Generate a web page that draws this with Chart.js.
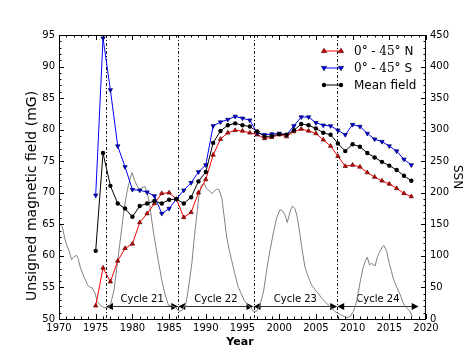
<!DOCTYPE html>
<html>
<head>
<meta charset="utf-8">
<script src="https://cdn.jsdelivr.net/npm/chart.js@4.4.0/dist/chart.umd.min.js"></script>
<style>
  html, body { margin: 0; padding: 0; background: #fff; }
  #wrap { width: 473px; height: 355px; }
</style>
</head>
<body>
<div id="wrap"><canvas id="chart" width="473" height="355"></canvas></div>
<script>
// yearly unsigned field, 1975 - 2018
const years = [1975, 1976, 1977, 1978, 1979, 1980, 1981, 1982, 1983, 1984,
               1985, 1986, 1987, 1988, 1989, 1990, 1991, 1992, 1993, 1994,
               1995, 1996, 1997, 1998, 1999, 2000, 2001, 2002, 2003, 2004,
               2005, 2006, 2007, 2008, 2009, 2010, 2011, 2012, 2013, 2014,
               2015, 2016, 2017, 2018];
const fieldN = [52.1, 58.1, 55.9, 59.2, 61.2, 61.9, 65.3, 66.7, 68.3, 69.9,
                70.0, 69.0, 66.1, 66.9, 70.0, 72.1, 76.0, 78.5, 79.5, 79.9,
                79.8, 79.5, 79.2, 78.6, 78.8, 79.2, 78.9, 79.7, 80.1, 79.8,
                79.4, 78.4, 77.4, 75.8, 74.2, 74.4, 74.1, 73.2, 72.5, 71.9,
                71.4, 70.7, 69.9, 69.4];
const fieldS = [69.6, 94.5, 86.3, 77.4, 74.1, 70.5, 70.4, 70.1, 69.5, 66.7,
                67.5, 69.0, 70.4, 71.6, 73.3, 74.4, 80.6, 81.2, 81.6, 82.1,
                81.8, 81.5, 79.5, 79.2, 79.3, 79.4, 79.2, 80.6, 82.0, 82.0,
                81.1, 80.7, 80.6, 79.9, 79.2, 80.8, 80.5, 79.4, 78.5, 78.1,
                77.4, 76.6, 75.3, 74.4];
const fieldMean = [60.8, 76.3, 71.1, 68.3, 67.5, 66.2, 67.9, 68.3, 68.7, 68.3,
                   68.9, 69.0, 68.3, 69.3, 71.8, 73.3, 77.9, 79.8, 80.7, 81.0,
                   80.7, 80.5, 79.7, 78.9, 79.0, 79.3, 79.2, 79.9, 80.9, 80.7,
                   80.2, 79.5, 79.2, 77.8, 76.6, 77.7, 77.3, 76.3, 75.6, 74.9,
                   74.3, 73.6, 72.7, 71.9];

// smoothed sunspot number (right axis)
const ssnYears = [1970.0, 1970.45, 1970.9, 1971.4, 1971.7, 1972.0, 1972.4, 1972.6, 1972.95, 1973.4,
                  1973.9, 1974.3, 1974.5, 1974.9, 1975.2, 1975.7, 1976.1, 1976.6, 1977.0, 1977.5,
                  1977.95, 1978.4, 1978.85, 1979.3, 1979.75, 1979.95, 1980.35, 1980.7, 1981.0, 1981.3,
                  1981.7, 1982.0, 1982.3, 1982.6, 1982.9, 1983.1, 1983.5, 1984.0, 1984.4, 1984.9,
                  1985.4, 1985.9, 1986.35, 1986.8, 1987.3, 1987.6, 1988.1, 1988.4, 1988.75, 1989.05,
                  1989.4, 1989.75, 1990.1, 1990.55, 1990.9, 1991.1, 1991.5, 1991.8, 1992.2, 1992.5,
                  1992.85, 1993.2, 1993.5, 1993.95, 1994.4, 1994.8, 1995.2, 1995.7, 1996.2, 1996.47,
                  1996.9, 1997.4, 1997.9, 1998.3, 1998.75, 1999.2, 1999.65, 2000.1, 2000.4, 2000.8,
                  2001.1, 2001.5, 2001.8, 2002.15, 2002.45, 2002.8, 2003.2, 2003.5, 2003.95, 2004.4,
                  2004.9, 2005.3, 2005.8, 2006.2, 2006.7, 2007.1, 2007.6, 2008.0, 2008.5, 2008.9,
                  2009.2, 2009.65, 2010.1, 2010.6, 2011.0, 2011.4, 2011.7, 2012.0, 2012.3, 2012.6,
                  2013.05, 2013.4, 2013.7, 2014.1, 2014.3, 2014.65, 2015.0, 2015.3, 2015.6, 2016.0,
                  2016.5, 2016.9, 2017.4, 2017.85, 2018.1];
const ssnValues = [152, 146, 122, 107, 94, 98, 101, 96, 80, 67,
                   54, 49, 50, 41, 28, 21, 18, 18, 22, 46,
                   88, 130, 173, 204, 225, 232, 218, 210, 205, 208,
                   210, 200, 185, 160, 135, 122, 94, 62, 41, 22,
                   21, 18, 12, 14, 25, 46, 88, 125, 162, 194,
                   212, 215, 207, 202, 199, 202, 206, 205, 191, 162,
                   130, 109, 94, 72, 51, 41, 30, 22, 17, 12,
                   12, 22, 46, 78, 109, 136, 160, 173, 172, 165,
                   153, 171, 179, 175, 162, 136, 104, 83, 67, 54,
                   46, 41, 33, 28, 22, 18, 12, 9, 6, 4,
                   2, 4, 12, 30, 57, 80, 91, 98, 86, 88,
                   84, 99, 107, 115, 116, 107, 88, 75, 62, 51,
                   38, 25, 17, 12, 4];

// cycle minima and labels
const cycleBounds = [1976.4, 1986.25, 1996.5, 2007.9, 2019.0];
const cycleNames = ['Cycle 21', 'Cycle 22', 'Cycle 23', 'Cycle 24'];
const arrowLevel = 20;
const labelLevel = 27;

const seriesLabels = ['0° - 45°', '0° - 45°', 'Mean field'];
const seriesSuffix = [' N', ' S', ''];

const FONT = "'DejaVu Sans', sans-serif";
Chart.defaults.font.family = FONT;
Chart.defaults.color = '#000';

function tri(ctx, x, y, r, down, fill, edge) {
  const s = down ? -1 : 1;
  ctx.beginPath();
  ctx.moveTo(x, y - s * r);
  ctx.lineTo(x + r * 0.95, y + s * r * 0.6);
  ctx.lineTo(x - r * 0.95, y + s * r * 0.6);
  ctx.closePath();
  ctx.fillStyle = fill; ctx.fill();
  ctx.strokeStyle = edge; ctx.lineWidth = 0.7; ctx.stroke();
}

function ticksOn(ctx, scale, a, from, to, step, len, side) {
  ctx.beginPath();
  for (let v = from; v <= to + 1e-9; v += step) {
    const p = Math.round(scale.getPixelForValue(v)) + 0.5;
    if (side === 'bottom') { ctx.moveTo(p, a.bottom); ctx.lineTo(p, a.bottom - len); }
    if (side === 'top') { ctx.moveTo(p, a.top); ctx.lineTo(p, a.top + len); }
    if (side === 'left') { ctx.moveTo(a.left, p); ctx.lineTo(a.left + len, p); }
    if (side === 'right') { ctx.moveTo(a.right, p); ctx.lineTo(a.right - len, p); }
  }
  ctx.stroke();
}

const decor = {
  id: 'decor',
  beforeDatasetsDraw(chart) {
    const {ctx, chartArea: a, scales: {x, y2}} = chart;
    ctx.save();
    // dash-dot lines at cycle minima
    ctx.strokeStyle = '#000';
    ctx.lineWidth = 1;
    ctx.setLineDash([3, 2, 1, 2]);
    cycleBounds.slice(0, 4).forEach(v => {
      const px = Math.round(x.getPixelForValue(v)) + 0.5;
      ctx.beginPath(); ctx.moveTo(px, a.top); ctx.lineTo(px, a.bottom); ctx.stroke();
    });
    ctx.setLineDash([]);
    // cycle arrows
    const ay = Math.round(y2.getPixelForValue(arrowLevel)) + 0.5;
    const ly = y2.getPixelForValue(labelLevel);
    ctx.font = '10px ' + FONT;
    ctx.textAlign = 'center';
    ctx.textBaseline = 'alphabetic';
    for (let i = 0; i < cycleNames.length; i++) {
      const x0 = x.getPixelForValue(cycleBounds[i]);
      const x1 = x.getPixelForValue(cycleBounds[i + 1]);
      ctx.strokeStyle = '#333'; ctx.lineWidth = 1;
      ctx.beginPath(); ctx.moveTo(x0 + 4, ay); ctx.lineTo(x1 - 4, ay); ctx.stroke();
      ctx.fillStyle = '#000';
      ctx.beginPath(); ctx.moveTo(x0, ay); ctx.lineTo(x0 + 7, ay - 3.5); ctx.lineTo(x0 + 7, ay + 3.5); ctx.closePath(); ctx.fill();
      ctx.beginPath(); ctx.moveTo(x1, ay); ctx.lineTo(x1 - 7, ay - 3.5); ctx.lineTo(x1 - 7, ay + 3.5); ctx.closePath(); ctx.fill();
      ctx.fillText(cycleNames[i], (x0 + x1) / 2, ly);
    }
    ctx.restore();
  },
  afterDraw(chart) {
    const {ctx, chartArea: a, scales: {x, y, y2}} = chart;
    ctx.save();
    ctx.strokeStyle = '#000';
    ctx.lineWidth = 1;
    ctx.strokeRect(a.left + 0.5, a.top + 0.5, a.right - a.left - 1, a.bottom - a.top);
    // inward ticks
    ticksOn(ctx, x, a, 1970, 2020, 5, 5, 'bottom');
    ticksOn(ctx, x, a, 1970, 2020, 1, 2.5, 'bottom');
    ticksOn(ctx, x, a, 1970, 2020, 5, 5, 'top');
    ticksOn(ctx, x, a, 1970, 2020, 1, 2.5, 'top');
    ticksOn(ctx, y, a, 50, 95, 5, 5, 'left');
    ticksOn(ctx, y, a, 50, 95, 1, 2.5, 'left');
    ticksOn(ctx, y2, a, 0, 450, 50, 5, 'right');
    ticksOn(ctx, y2, a, 0, 450, 10, 2.5, 'right');

    // legend
    const rows = [
      {color: '#ff0000', fill: '#cc0000', edge: '#550000', kind: 'up'},
      {color: '#0000ff', fill: '#0000ee', edge: '#000055', kind: 'down'},
      {color: '#000000', fill: '#000000', edge: '#000000', kind: 'dot'}
    ];
    rows.forEach((r, i) => {
      const ly = 51 + i * 17;
      ctx.strokeStyle = r.color; ctx.lineWidth = 1;
      ctx.beginPath(); ctx.moveTo(324, ly); ctx.lineTo(341, ly); ctx.stroke();
      [324, 341].forEach(px => {
        if (r.kind === 'dot') {
          ctx.beginPath(); ctx.arc(px, ly, 2.2, 0, Math.PI * 2); ctx.fillStyle = '#000'; ctx.fill();
        } else {
          tri(ctx, px, ly, 2.7, r.kind === 'down', r.fill, r.edge);
        }
      });
      ctx.fillStyle = '#000';
      ctx.textBaseline = 'middle';
      ctx.textAlign = 'left';
      if (seriesSuffix[i]) {
        ctx.font = "12px 'DejaVu Serif', serif";
        ctx.fillText(seriesLabels[i], 354, ly + 1);
        const w = ctx.measureText(seriesLabels[i]).width;
        ctx.font = '12px ' + FONT;
        ctx.fillText(seriesSuffix[i], 354 + w, ly + 1);
      } else {
        ctx.font = '12px ' + FONT;
        ctx.fillText(seriesLabels[i], 354, ly + 1);
      }
    });

    // axis titles
    ctx.fillStyle = '#000';
    ctx.textAlign = 'center';
    ctx.textBaseline = 'middle';
    ctx.font = 'bold 11px ' + FONT;
    ctx.fillText('Year', 240, 342);
    ctx.save();
    ctx.translate(32, 196);
    ctx.rotate(-Math.PI / 2);
    ctx.font = '14px ' + FONT;
    ctx.fillText('Unsigned magnetic field (mG)', 0, 0);
    ctx.restore();
    ctx.save();
    ctx.translate(457, 177);
    ctx.rotate(Math.PI / 2);
    ctx.font = '12px ' + FONT;
    ctx.fillText('SSN', 0, 0);
    ctx.restore();
    ctx.restore();
  }
};

const tickFont = {size: 10, family: FONT};

new Chart(document.getElementById('chart'), {
  type: 'line',
  data: {
    datasets: [
      {
        label: 'N',
        data: years.map((yr, i) => ({x: yr, y: fieldN[i]})),
        borderColor: '#ff0000',
        borderWidth: 1,
        pointStyle: 'triangle',
        pointRadius: 2.5,
        pointBackgroundColor: '#cc0000',
        pointBorderColor: '#550000',
        pointBorderWidth: 0.7,
        yAxisID: 'y',
        order: 3
      },
      {
        label: 'S',
        data: years.map((yr, i) => ({x: yr, y: fieldS[i]})),
        borderColor: '#0000ff',
        borderWidth: 1,
        pointStyle: 'triangle',
        pointRotation: 180,
        pointRadius: 2.5,
        pointBackgroundColor: '#0000ee',
        pointBorderColor: '#000055',
        pointBorderWidth: 0.7,
        yAxisID: 'y',
        order: 2
      },
      {
        label: 'Mean field',
        data: years.map((yr, i) => ({x: yr, y: fieldMean[i]})),
        borderColor: '#000000',
        borderWidth: 1,
        pointStyle: 'circle',
        pointRadius: 2.2,
        pointBackgroundColor: '#000000',
        pointBorderColor: '#000000',
        pointBorderWidth: 0,
        yAxisID: 'y',
        order: 1
      },
      {
        label: 'SSN',
        data: ssnYears.map((yr, i) => ({x: yr, y: ssnValues[i]})),
        borderColor: '#808080',
        borderWidth: 1,
        pointRadius: 0,
        tension: 0,
        yAxisID: 'y2',
        order: 4
      }
    ]
  },
  options: {
    responsive: false,
    animation: false,
    devicePixelRatio: 1,
    layout: {padding: {top: 35, left: 0, right: 0, bottom: 0}},
    plugins: {legend: {display: false}, tooltip: {enabled: false}},
    elements: {line: {tension: 0}},
    scales: {
      x: {
        type: 'linear',
        min: 1970,
        max: 2020,
        grid: {display: false, drawTicks: false},
        border: {display: false},
        ticks: {stepSize: 5, font: tickFont, padding: 3, maxRotation: 0, callback: v => String(v)},
        afterFit: s => { s.height = 36; }
      },
      y: {
        position: 'left',
        min: 50,
        max: 95,
        grid: {display: false, drawTicks: false},
        border: {display: false},
        ticks: {stepSize: 5, font: tickFont, padding: 4},
        afterFit: s => { s.width = 59; }
      },
      y2: {
        position: 'right',
        min: 0,
        max: 450,
        grid: {display: false, drawTicks: false},
        border: {display: false},
        ticks: {stepSize: 50, font: tickFont, padding: 4},
        afterFit: s => { s.width = 47; }
      }
    }
  },
  plugins: [decor]
});
</script>
</body>
</html>
